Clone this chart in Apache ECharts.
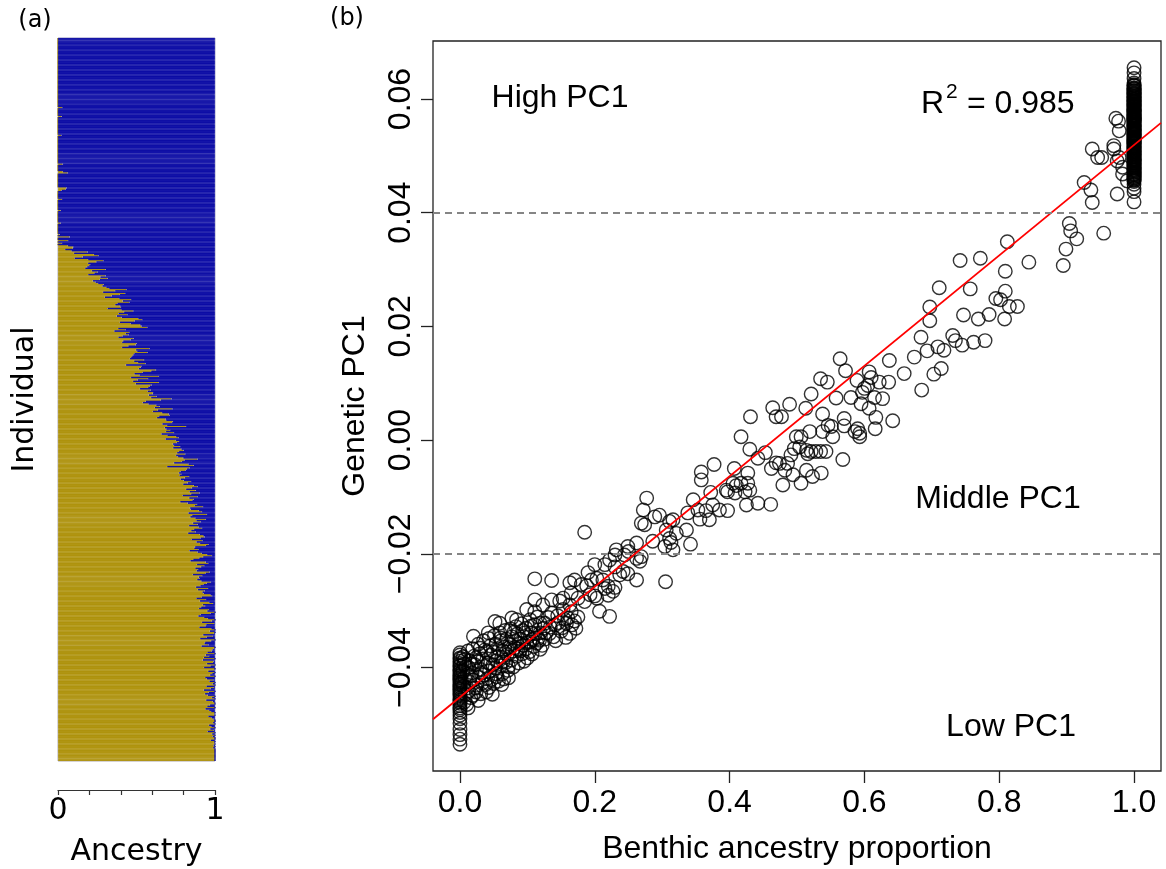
<!DOCTYPE html>
<html>
<head>
<meta charset="utf-8">
<script src="https://cdn.jsdelivr.net/npm/echarts@6/dist/echarts.min.js"></script>
<style>
  html, body { margin: 0; padding: 0; background: #fff; }
  #chart { width: 1166px; height: 869px; }
</style>
</head>
<body>
<div id="chart"></div>
<script>
// genetic PC1 of individuals with benthic ancestry = 1 (stacked column at x = 1)
const pureBenthicPC1 = [
  0.0655, 0.0646, 0.0636, 0.0628, 0.0625, 0.0623, 0.0620, 0.0618, 0.0617, 0.0615,
  0.0613, 0.0611, 0.0610, 0.0609, 0.0607, 0.0605, 0.0603, 0.0600, 0.0599, 0.0598,
  0.0597, 0.0595, 0.0592, 0.0591, 0.0589, 0.0587, 0.0586, 0.0583, 0.0582, 0.0581,
  0.0580, 0.0578, 0.0576, 0.0573, 0.0572, 0.0571, 0.0570, 0.0568, 0.0566, 0.0565,
  0.0564, 0.0563, 0.0561, 0.0559, 0.0556, 0.0555, 0.0554, 0.0553, 0.0551, 0.0549,
  0.0548, 0.0546, 0.0544, 0.0541, 0.0540, 0.0539, 0.0538, 0.0536, 0.0534, 0.0532,
  0.0531, 0.0529, 0.0527, 0.0525, 0.0524, 0.0522, 0.0521, 0.0519, 0.0517, 0.0515,
  0.0514, 0.0512, 0.0510, 0.0508, 0.0507, 0.0505, 0.0504, 0.0502, 0.0500, 0.0498,
  0.0496, 0.0494, 0.0493, 0.0492, 0.0490, 0.0488, 0.0486, 0.0484, 0.0482, 0.0480,
  0.0478, 0.0476, 0.0474, 0.0471, 0.0469, 0.0467, 0.0464, 0.0461, 0.0458, 0.0455,
  0.0450, 0.0443, 0.0437, 0.0419,
  0.0624, 0.0619, 0.0614, 0.0608, 0.0602, 0.0596, 0.0593, 0.0588, 0.0584, 0.0579,
  0.0575, 0.0569, 0.0567, 0.0562, 0.0558, 0.0552, 0.0547, 0.0543, 0.0537, 0.0533,
  0.0528, 0.0523, 0.0518, 0.0513, 0.0509, 0.0503, 0.0499, 0.0495, 0.0491, 0.0487,
  0.0483, 0.0479, 0.0475, 0.0472, 0.0468, 0.0466, 0.0463, 0.0460, 0.0457, 0.0545,
  0.0562, 0.0577, 0.0590, 0.0604, 0.0526
];

// genetic PC1 of individuals with benthic ancestry = 0 (stacked column at x = 0)
const pureLittoralPC1 = [
  -0.0374, -0.0378, -0.0383, -0.0385, -0.0389, -0.0393, -0.0396, -0.0398, -0.0402, -0.0405,
  -0.0407, -0.0410, -0.0413, -0.0415, -0.0418, -0.0421, -0.0423, -0.0426, -0.0429, -0.0431,
  -0.0434, -0.0437, -0.0439, -0.0442, -0.0445, -0.0447, -0.0450, -0.0454, -0.0457, -0.0460,
  -0.0463, -0.0467, -0.0471, -0.0474, -0.0479, -0.0484, -0.0490, -0.0498, -0.0509, -0.0518,
  -0.0526, -0.0535
];

// admixed individuals: [benthic ancestry proportion, genetic PC1]
const admixedSamples = [
  [0.973, 0.0566], [0.977, 0.0561], [0.978, 0.0544], [0.970, 0.0518], [0.970, 0.0512],
  [0.938, 0.0512], [0.946, 0.0497], [0.952, 0.0497], [0.978, 0.0497], [0.975, 0.0491],
  [0.983, 0.0480], [0.983, 0.0468], [0.990, 0.0456], [0.926, 0.0453], [0.936, 0.0440],
  [0.938, 0.0418], [0.975, 0.0433],
  [0.904, 0.0381], [0.906, 0.0368], [0.915, 0.0354], [0.899, 0.0336], [0.895, 0.0307],
  [0.955, 0.0364], [0.812, 0.0349], [0.844, 0.0313], [0.742, 0.0316], [0.772, 0.0320],
  [0.809, 0.0297], [0.711, 0.0268], [0.757, 0.0266], [0.809, 0.0262], [0.795, 0.0249],
  [0.802, 0.0247], [0.815, 0.0235], [0.827, 0.0235], [0.697, 0.0234], [0.697, 0.0210],
  [0.747, 0.0220], [0.769, 0.0213], [0.785, 0.0221], [0.808, 0.0213],
  [0.684, 0.0181], [0.731, 0.0184], [0.735, 0.0175], [0.745, 0.0167], [0.762, 0.0172],
  [0.779, 0.0175], [0.709, 0.0164], [0.718, 0.0158], [0.693, 0.0157], [0.674, 0.0146],
  [0.637, 0.0140], [0.564, 0.0143], [0.572, 0.0122], [0.659, 0.0117], [0.714, 0.0126],
  [0.703, 0.0116], [0.685, 0.0088], [0.535, 0.0108], [0.545, 0.0102], [0.589, 0.0105],
  [0.607, 0.0120], [0.610, 0.0110], [0.622, 0.0102], [0.636, 0.0102], [0.605, 0.0096],
  [0.600, 0.0091], [0.521, 0.0081], [0.558, 0.0074], [0.580, 0.0075], [0.597, 0.0084],
  [0.615, 0.0075], [0.627, 0.0073], [0.489, 0.0063], [0.513, 0.0056], [0.595, 0.0064],
  [0.607, 0.0056], [0.538, 0.0046], [0.570, 0.0038], [0.617, 0.0040], [0.642, 0.0034],
  [0.477, 0.0041], [0.546, 0.0026], [0.551, 0.0024], [0.570, 0.0025], [0.590, 0.0020],
  [0.616, 0.0020], [0.519, 0.0015], [0.538, 0.0015], [0.586, 0.0015], [0.499, 0.0006],
  [0.506, 0.0006], [0.553, 0.0006], [0.593, 0.0006], [0.593, 0.0012],
  [0.496, -0.0015], [0.504, -0.0012], [0.514, -0.0018], [0.521, -0.0020], [0.528, -0.0020],
  [0.535, -0.0020], [0.543, -0.0020], [0.491, -0.0026], [0.516, -0.0024], [0.568, -0.0034],
  [0.474, -0.0041], [0.486, -0.0041], [0.514, -0.0053], [0.494, -0.0061], [0.523, -0.0064],
  [0.536, -0.0058], [0.506, -0.0076], [0.479, -0.0079], [0.482, -0.0053],
  [0.464, 0.0057], [0.469, 0.0041], [0.431, 0.0041], [0.417, 0.0006], [0.430, -0.0016],
  [0.453, -0.0022], [0.442, -0.0032], [0.469, -0.0040], [0.377, -0.0043], [0.358, -0.0056],
  [0.358, -0.0070], [0.407, -0.0050], [0.427, -0.0058], [0.462, -0.0050], [0.405, -0.0076],
  [0.410, -0.0080], [0.417, -0.0076], [0.397, -0.0091], [0.408, -0.0093], [0.423, -0.0091],
  [0.427, -0.0076], [0.430, -0.0088], [0.395, -0.0088], [0.425, -0.0114], [0.442, -0.0111],
  [0.461, -0.0113], [0.346, -0.0105], [0.353, -0.0123], [0.365, -0.0124], [0.375, -0.0114],
  [0.385, -0.0123], [0.397, -0.0124], [0.370, -0.0140], [0.356, -0.0139], [0.338, -0.0128],
  [0.316, -0.0140], [0.311, -0.0143], [0.296, -0.0132], [0.342, -0.0183], [0.336, -0.0158],
  [0.372, -0.0092], [0.190, -0.0233],
  [0.277, -0.0102], [0.272, -0.0123], [0.289, -0.0135], [0.269, -0.0146], [0.274, -0.0149],
  [0.185, -0.0162], [0.306, -0.0158], [0.311, -0.0173], [0.304, -0.0187], [0.321, -0.0164],
  [0.313, -0.0180], [0.286, -0.0178], [0.262, -0.0181], [0.249, -0.0187], [0.232, -0.0193],
  [0.230, -0.0202], [0.269, -0.0205], [0.262, -0.0208], [0.267, -0.0213], [0.222, -0.0211],
  [0.215, -0.0219], [0.200, -0.0219], [0.230, -0.0223], [0.242, -0.0231], [0.249, -0.0235],
  [0.237, -0.0237], [0.203, -0.0243], [0.195, -0.0246], [0.212, -0.0246], [0.262, -0.0246],
  [0.305, -0.0249], [0.111, -0.0244], [0.136, -0.0247], [0.170, -0.0246], [0.163, -0.0251],
  [0.180, -0.0254], [0.188, -0.0256], [0.220, -0.0257], [0.230, -0.0259], [0.215, -0.0261],
  [0.193, -0.0272], [0.165, -0.0269], [0.153, -0.0278], [0.175, -0.0278], [0.200, -0.0274],
  [0.220, -0.0273], [0.227, -0.0266], [0.148, -0.0283], [0.136, -0.0281], [0.111, -0.0281],
  [0.123, -0.0290], [0.163, -0.0290], [0.185, -0.0284], [0.203, -0.0278], [0.207, -0.0301],
  [0.222, -0.0310], [0.099, -0.0298], [0.111, -0.0302], [0.136, -0.0304], [0.153, -0.0298],
  [0.165, -0.0302], [0.175, -0.0311], [0.158, -0.0322], [0.141, -0.0325], [0.126, -0.0322],
  [0.111, -0.0325], [0.104, -0.0316], [0.119, -0.0339], [0.133, -0.0340], [0.106, -0.0340],
  [0.096, -0.0339], [0.150, -0.0336], [0.163, -0.0340], [0.316, -0.0193], [0.250, -0.0196],
  [0.244, -0.0202],
  [0.012, -0.0471], [0.062, -0.0430], [0.072, -0.0418], [0.119, -0.0368], [0.052, -0.0319],
  [0.059, -0.0322], [0.020, -0.0345], [0.042, -0.0339], [0.077, -0.0313], [0.084, -0.0316],
  [0.007, -0.0386],
  [0.005, -0.0381], [0.006, -0.0394], [0.004, -0.0406], [0.007, -0.0417], [0.005, -0.0433],
  [0.008, -0.0447], [0.006, -0.0461],
  [0.012, -0.0371], [0.014, -0.0388], [0.013, -0.0400], [0.011, -0.0412], [0.015, -0.0426],
  [0.013, -0.0441], [0.016, -0.0453], [0.010, -0.0465],
  [0.019, -0.0367], [0.021, -0.0380], [0.022, -0.0395], [0.018, -0.0409], [0.020, -0.0422],
  [0.023, -0.0436], [0.019, -0.0449],
  [0.027, -0.0359], [0.029, -0.0376], [0.026, -0.0390], [0.030, -0.0403], [0.028, -0.0417],
  [0.025, -0.0431], [0.031, -0.0446], [0.027, -0.0458],
  [0.035, -0.0353], [0.037, -0.0369], [0.034, -0.0385], [0.038, -0.0398], [0.036, -0.0413],
  [0.033, -0.0427], [0.039, -0.0443],
  [0.043, -0.0349], [0.045, -0.0362], [0.046, -0.0378], [0.042, -0.0392], [0.044, -0.0406],
  [0.047, -0.0421], [0.043, -0.0435], [0.048, -0.0447],
  [0.051, -0.0344], [0.053, -0.0359], [0.050, -0.0373], [0.054, -0.0388], [0.052, -0.0401],
  [0.055, -0.0416], [0.050, -0.0428],
  [0.059, -0.0339], [0.061, -0.0353], [0.058, -0.0368], [0.062, -0.0382], [0.060, -0.0397],
  [0.063, -0.0411], [0.057, -0.0424],
  [0.067, -0.0335], [0.069, -0.0350], [0.066, -0.0364], [0.070, -0.0377], [0.068, -0.0391],
  [0.071, -0.0405], [0.065, -0.0420],
  [0.075, -0.0332], [0.077, -0.0346], [0.074, -0.0359], [0.078, -0.0371], [0.076, -0.0387],
  [0.079, -0.0399],
  [0.083, -0.0328], [0.085, -0.0341], [0.082, -0.0354], [0.086, -0.0367], [0.084, -0.0380],
  [0.087, -0.0392],
  [0.091, -0.0323], [0.093, -0.0335], [0.090, -0.0350], [0.094, -0.0361], [0.092, -0.0376],
  [0.095, -0.0389],
  [0.101, -0.0346], [0.099, -0.0357], [0.103, -0.0372], [0.100, -0.0383],
  [0.108, -0.0351], [0.110, -0.0363], [0.107, -0.0376],
  [0.116, -0.0349], [0.114, -0.0357],
  [0.124, -0.0331], [0.126, -0.0350], [0.122, -0.0361],
  [0.139, -0.0346], [0.142, -0.0353],
  [0.155, -0.0315], [0.157, -0.0347],
  [0.170, -0.0318], [0.172, -0.0331],
  [0.009, -0.0399], [0.017, -0.0394], [0.024, -0.0383], [0.032, -0.0410], [0.040, -0.0372],
  [0.049, -0.0395], [0.056, -0.0381], [0.064, -0.0371], [0.072, -0.0398], [0.081, -0.0365],
  [0.088, -0.0357], [0.097, -0.0368], [0.104, -0.0355], [0.112, -0.0340], [0.118, -0.0352],
  [0.128, -0.0339], [0.134, -0.0329], [0.146, -0.0321], [0.152, -0.0330], [0.160, -0.0313],
  [0.166, -0.0325], [0.131, -0.0312], [0.119, -0.0322], [0.145, -0.0309], [0.003, -0.0426],
  [0.011, -0.0436], [0.024, -0.0443], [0.038, -0.0430], [0.053, -0.0411], [0.064, -0.0390],
  [0.073, -0.0365], [0.089, -0.0371], [0.098, -0.0331], [0.106, -0.0327], [0.115, -0.0311],
  [0.041, -0.0419], [0.016, -0.0414], [0.030, -0.0366], [0.060, -0.0348], [0.080, -0.0338]
];

// fitted regression line, end points read at the plot edges
const fitLine = [[-0.04, -0.0491], [1.04, 0.0558]];
// group boundaries (dashed)
const pc1Cutoffs = [0.04, -0.02];

const xTicksB = [0, 0.2, 0.4, 0.6, 0.8, 1.0];
const yTicksB = [-0.04, -0.02, 0, 0.02, 0.04, 0.06];

const samples = pureBenthicPC1.map((v) => [1, v])
  .concat(admixedSamples, pureLittoralPC1.map((v) => [0, v]));

// panel (a): individuals ordered by PC1, top = most benthic
const ordered = samples.slice().sort((a, b) => b[1] - a[1]);
const individuals = ordered.map((d, i) => 'ind' + (i + 1));
const littoralShare = ordered.map((d) => +(1 - d[0]).toFixed(3));
const benthicShare = ordered.map((d) => d[0]);

const fontA = '"DejaVu Sans", sans-serif';
const fontB = '"Liberation Sans", Arial, sans-serif';
const minus = (s) => s.replace('-', '\u2212');

const chart = echarts.init(document.getElementById('chart'), null, { renderer: 'canvas' });

const option = {
  animation: false,
  backgroundColor: '#fff',
  grid: [
    {
      left: 58, top: 38, width: 157, height: 723,
      show: true, borderColor: '#b4b4cc', borderWidth: 1,
      outerBoundsMode: 'none',
    },
    {
      left: 433, top: 41, width: 728, height: 730,
      show: true, borderColor: '#222', borderWidth: 1.3,
      outerBoundsMode: 'none',
    },
  ],
  xAxis: [
    {
      gridIndex: 0,
      type: 'value',
      min: 0,
      max: 1,
      interval: 0.2,
      offset: 29,
      splitLine: { show: false },
      axisLine: { show: true, onZero: false, lineStyle: { color: '#333', width: 1.2 } },
      axisTick: { show: true, length: 5, lineStyle: { color: '#333', width: 1.2 } },
      axisLabel: {
        margin: 6,
        fontSize: 30,
        fontFamily: fontA,
        color: '#000',
        formatter: (v) => (v < 0.01 ? '0' : v > 0.99 ? '1' : ''),
      },
      name: 'Ancestry',
      nameLocation: 'middle',
      nameGap: 47,
      nameTextStyle: { fontSize: 30, fontFamily: fontA, color: '#000' },
    },
    {
      gridIndex: 1,
      type: 'value',
      min: -0.04,
      max: 1.04,
      splitLine: { show: false },
      axisLine: { show: false, onZero: false },
      axisTick: {
        show: true,
        customValues: xTicksB,
        length: 12,
        lineStyle: { color: '#222', width: 1.3 },
      },
      axisLabel: {
        customValues: xTicksB,
        margin: 16,
        fontSize: 32,
        fontFamily: fontB,
        color: '#000',
        formatter: (v) => v.toFixed(1),
      },
      name: 'Benthic ancestry proportion',
      nameLocation: 'middle',
      nameGap: 62,
      nameTextStyle: { fontSize: 32, fontFamily: fontB, color: '#000' },
    },
  ],
  yAxis: [
    {
      gridIndex: 0,
      type: 'category',
      inverse: true,
      data: individuals,
      axisLine: { show: false },
      axisTick: { show: false },
      axisLabel: { show: false },
      splitLine: { show: false },
      name: 'Individual',
      nameLocation: 'middle',
      nameGap: 18,
      nameTextStyle: { fontSize: 30, fontFamily: fontA, color: '#000' },
    },
    {
      gridIndex: 1,
      type: 'value',
      min: -0.0582,
      max: 0.0702,
      splitLine: { show: false },
      axisLine: { show: false, onZero: false },
      axisTick: {
        show: true,
        customValues: yTicksB,
        length: 12,
        lineStyle: { color: '#222', width: 1.3 },
      },
      axisLabel: {
        customValues: yTicksB,
        rotate: 90,
        margin: 16,
        fontSize: 32,
        fontFamily: fontB,
        color: '#000',
        formatter: (v) => minus(v.toFixed(2)),
      },
      name: 'Genetic PC1',
      nameLocation: 'middle',
      nameGap: 62,
      nameTextStyle: { fontSize: 32, fontFamily: fontB, color: '#000' },
    },
  ],
  series: [
    {
      name: 'littoral',
      type: 'bar',
      xAxisIndex: 0,
      yAxisIndex: 0,
      stack: 'ancestry',
      barCategoryGap: '0%',
      data: littoralShare,
      itemStyle: { color: '#c4a400', borderColor: '#a88c00', borderWidth: 0.8 },
    },
    {
      name: 'benthic',
      type: 'bar',
      xAxisIndex: 0,
      yAxisIndex: 0,
      stack: 'ancestry',
      barCategoryGap: '0%',
      data: benthicShare,
      itemStyle: { color: '#0000b8', borderColor: '#0000a0', borderWidth: 0.8 },
    },
    {
      name: 'samples',
      type: 'scatter',
      xAxisIndex: 1,
      yAxisIndex: 1,
      data: samples,
      symbol: 'circle',
      symbolSize: 13.5,
      itemStyle: { color: 'rgba(0,0,0,0)', borderColor: '#000', borderWidth: 1.4 },
      markLine: {
        silent: true,
        symbol: ['none', 'none'],
        label: { show: false },
        lineStyle: { color: '#858585', type: [7, 5], width: 2.2 },
        data: pc1Cutoffs.map((v) => ({ yAxis: v })),
      },
    },
    {
      name: 'fit',
      type: 'line',
      xAxisIndex: 1,
      yAxisIndex: 1,
      data: fitLine,
      symbol: 'none',
      lineStyle: { color: '#ff0000', width: 1.8 },
    },
  ],
  graphic: [
    { type: 'text', x: 35, y: 21, style: { text: '(a)', font: '24px ' + fontA, fill: '#000', align: 'center', verticalAlign: 'middle' } },
    { type: 'text', x: 347, y: 19, style: { text: '(b)', font: '24px ' + fontA, fill: '#000', align: 'center', verticalAlign: 'middle' } },
    { type: 'text', x: 137, y: 57, style: { text: 'benthic', font: '30px ' + fontA, fill: '#fff', align: 'center', verticalAlign: 'middle' } },
    { type: 'text', x: 136, y: 743, style: { text: 'littoral', font: '30px ' + fontA, fill: '#fff', align: 'center', verticalAlign: 'middle' } },
    { type: 'text', x: 560, y: 98, style: { text: 'High PC1', font: '32px ' + fontB, fill: '#000', align: 'center', verticalAlign: 'middle' } },
    { type: 'text', x: 921, y: 104, style: { text: 'R', font: '32px ' + fontB, fill: '#000', align: 'left', verticalAlign: 'middle' } },
    { type: 'text', x: 946, y: 92, style: { text: '2', font: '21px ' + fontB, fill: '#000', align: 'left', verticalAlign: 'middle' } },
    { type: 'text', x: 967, y: 104, style: { text: '= 0.985', font: '32px ' + fontB, fill: '#000', align: 'left', verticalAlign: 'middle' } },
    { type: 'text', x: 998, y: 499, style: { text: 'Middle PC1', font: '32px ' + fontB, fill: '#000', align: 'center', verticalAlign: 'middle' } },
    { type: 'text', x: 1011, y: 727, style: { text: 'Low PC1', font: '32px ' + fontB, fill: '#000', align: 'center', verticalAlign: 'middle' } },
  ],
};

chart.setOption(option);
</script>
</body>
</html>
